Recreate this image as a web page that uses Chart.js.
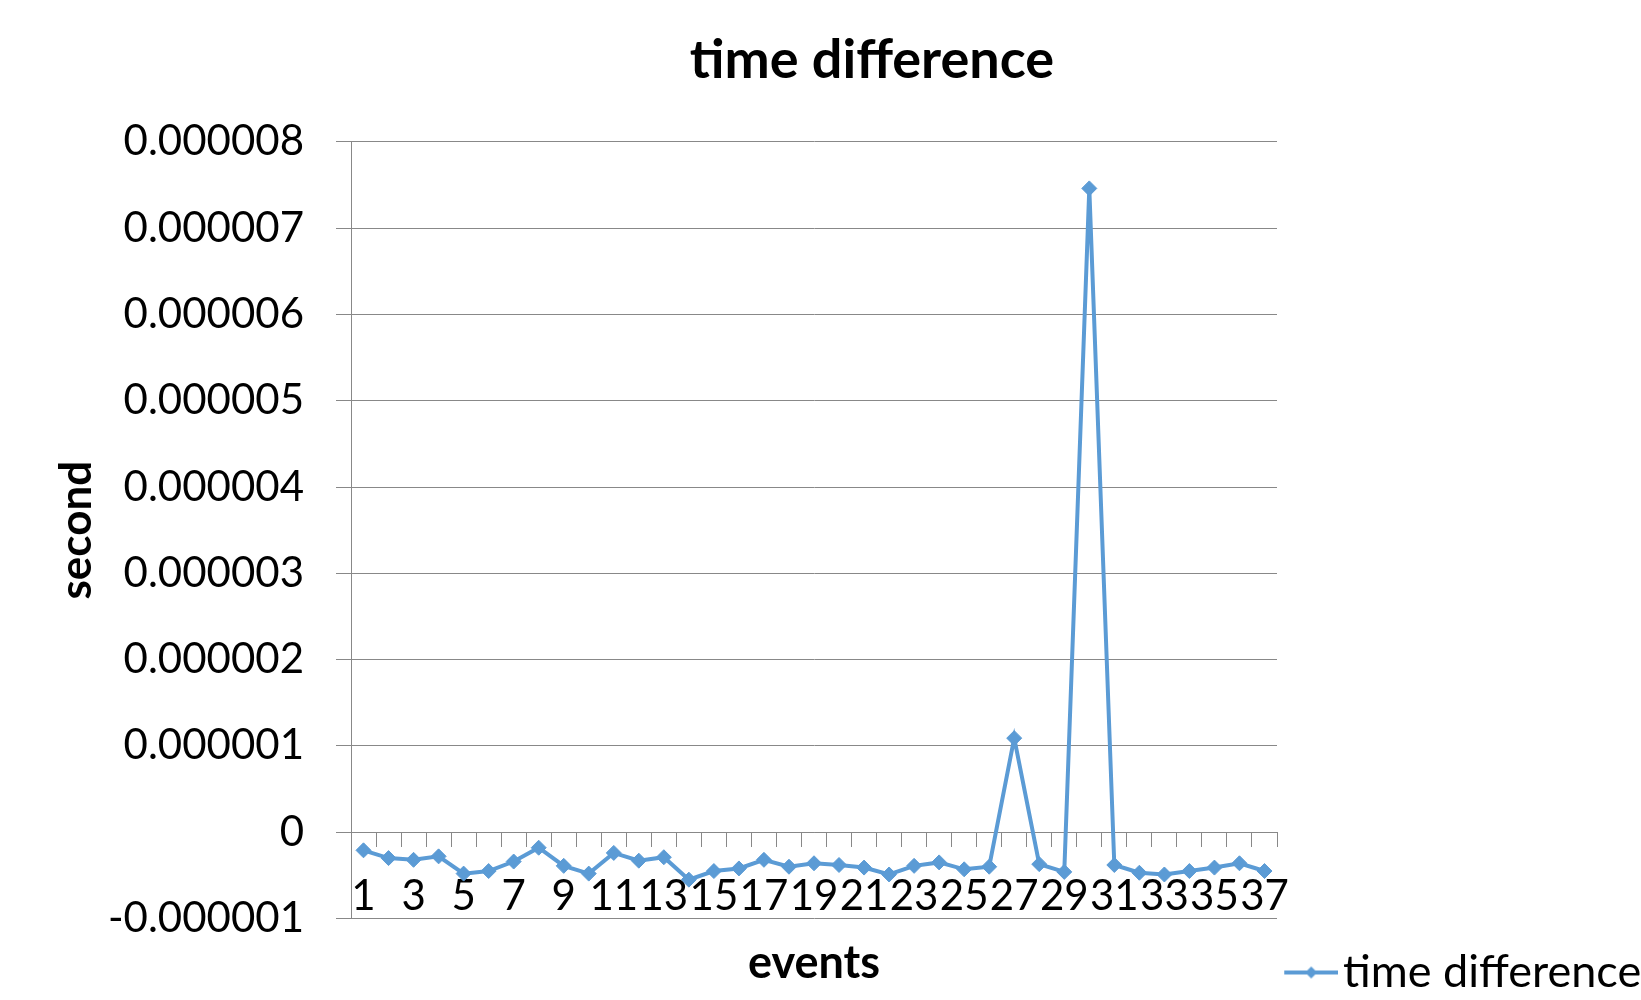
<!DOCTYPE html>
<html>
<head>
<meta charset="utf-8">
<script src="https://cdn.jsdelivr.net/npm/chart.js@4.4.1/dist/chart.umd.min.js"></script>
<style>
  html, body { margin: 0; padding: 0; background: #fff; }
  #wrap { width: 1641px; height: 1000px; position: relative; }
</style>
</head>
<body>
<div id="wrap"><canvas id="timeChart"></canvas></div>
<script>
const LINE_BLUE = '#5B9BD5';
const GRID_GREY = '#888888';

// categories (event number)
const eventLabels = ['1', '2', '3', '4', '5', '6', '7', '8', '9', '10',
  '11', '12', '13', '14', '15', '16', '17', '18', '19', '20',
  '21', '22', '23', '24', '25', '26', '27', '28', '29', '30',
  '31', '32', '33', '34', '35', '36', '37'];

// time difference per event, in seconds
const timeDifference = [
  -0.00000021, -0.00000030, -0.00000032, -0.00000028, -0.00000048,
  -0.00000045, -0.00000034, -0.00000018, -0.00000039, -0.00000048,
  -0.00000024, -0.00000033, -0.00000029, -0.00000055, -0.00000045,
  -0.00000042, -0.00000032, -0.00000040, -0.00000036, -0.00000038,
  -0.00000041, -0.00000049, -0.00000039, -0.00000035, -0.00000043,
  -0.00000040, 0.00000109, -0.00000037, -0.00000046, 0.00000746,
  -0.00000038, -0.00000047, -0.00000049, -0.00000045, -0.00000041,
  -0.00000036, -0.00000045
];

// y axis range and tick step
const yTickMin = -0.000001;
const yTickMax = 0.000008;
const yTickStep = 0.000001;

// legend glyph: a short line with a diamond on it, like the excel legend
function legendGlyph() {
  const c = document.createElement('canvas');
  c.width = 74;
  c.height = 16;
  const g = c.getContext('2d');
  g.strokeStyle = LINE_BLUE;
  g.lineWidth = 4;
  g.beginPath();
  g.moveTo(20, 8);
  g.lineTo(74, 8);
  g.stroke();
  g.fillStyle = LINE_BLUE;
  g.beginPath();
  g.moveTo(47, 2);
  g.lineTo(53, 8);
  g.lineTo(47, 14);
  g.lineTo(41, 8);
  g.closePath();
  g.fill();
  return c;
}

Chart.defaults.font.family = 'Lato, "Open Sans", sans-serif';
Chart.defaults.color = '#000';

const timeChart = new Chart(document.getElementById('timeChart'), {
  type: 'line',
  data: {
    labels: eventLabels,
    datasets: [{
      label: 'time difference',
      data: timeDifference,
      xAxisID: 'x',
      yAxisID: 'y',
      borderColor: LINE_BLUE,
      backgroundColor: LINE_BLUE,
      borderWidth: 4,
      pointStyle: 'rectRot',
      pointRadius: 7.5,
      pointBorderWidth: 1,
      pointBackgroundColor: LINE_BLUE,
      pointBorderColor: LINE_BLUE,
      tension: 0,
      fill: false
    }]
  },
  options: {
    responsive: true,
    maintainAspectRatio: false,
    animation: false,
    // excel centres the title on a chart slightly wider than the picture
    layout: { padding: { left: 103, right: 0, top: 0, bottom: 0 } },
    plugins: {
      title: {
        display: true,
        text: 'time difference',
        font: { size: 54, weight: 'bold' },
        padding: { top: 28, bottom: 49 }
      },
      legend: {
        position: 'right',
        align: 'end',
        maxWidth: 364,
        labels: {
          usePointStyle: true,
          pointStyle: legendGlyph(),
          pointStyleWidth: 38.5,
          padding: 5,
          font: { size: 45 }
        }
      },
      tooltip: { enabled: false }
    },
    scales: {
      x: {
        type: 'category',
        axis: 'x',
        position: { y: 0 },
        offset: true,
        grid: { offset: true, drawOnChartArea: false, drawTicks: true, tickLength: 14, color: GRID_GREY },
        border: { color: GRID_GREY },
        ticks: {
          autoSkip: false,
          maxRotation: 0,
          minRotation: 0,
          padding: 25,
          font: { size: 42 },
          callback: function (value, index) {
            return index % 2 === 0 ? this.getLabelForValue(value) : '';
          }
        }
      },
      xTitle: {
        type: 'category',
        axis: 'x',
        position: 'bottom',
        grid: { display: false, drawTicks: false },
        border: { display: false },
        ticks: { display: false },
        title: {
          display: true,
          text: 'events',
          font: { size: 45, weight: 'bold' },
          padding: { top: 17.5, bottom: 10 }
        }
      },
      y: {
        type: 'linear',
        position: 'left',
        min: yTickMin,
        max: yTickMax,
        grid: { color: GRID_GREY, tickLength: 15 },
        border: { color: GRID_GREY },
        ticks: {
          stepSize: yTickStep,
          padding: 32,
          font: { size: 42 },
          callback: v => Math.abs(v) < 1e-12 ? '0' : v.toFixed(6)
        },
        title: {
          display: true,
          text: 'second',
          font: { size: 44, weight: 'bold' },
          padding: { top: -52.4, bottom: 0 }
        },
        afterFit: s => { s.width = 248; }
      }
    }
  }
});
</script>
</body>
</html>
